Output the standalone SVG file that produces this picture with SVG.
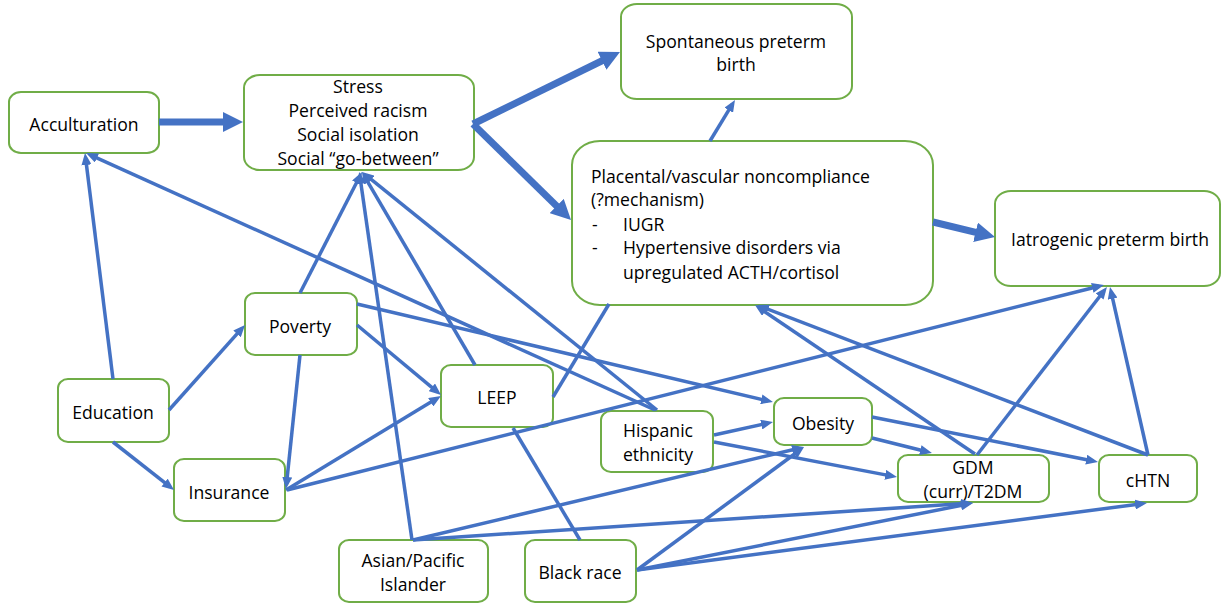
<svg xmlns="http://www.w3.org/2000/svg" width="1221" height="603" viewBox="0 0 1221 603">
<style>
.box{fill:#fff;stroke:#70AD47;stroke-width:2}
.t{font-family:"Open Sans","Liberation Sans",sans-serif;font-size:17.6px;fill:#000;text-anchor:middle}
.tl{font-family:"Open Sans","Liberation Sans",sans-serif;font-size:17.6px;fill:#000}
.c{stroke:#4472C4;stroke-width:3.5;fill:none;marker-end:url(#ah)}
.n{stroke:#4472C4;stroke-width:3.5;fill:none}
.k{stroke:#4472C4;stroke-width:7;fill:none;marker-end:url(#ahk)}
</style>
<defs>
<marker id="ah" markerUnits="userSpaceOnUse" markerWidth="12" markerHeight="10" refX="7" refY="5" orient="auto"><path d="M0,0 L12,5 L0,10 z" fill="#4472C4"/></marker>
<marker id="ahk" markerUnits="userSpaceOnUse" markerWidth="20" markerHeight="20" refX="12" refY="10" orient="auto"><path d="M0,0 L20,10 L0,20 z" fill="#4472C4"/></marker>
</defs>
<rect width="1221" height="603" fill="#fff"/>
<g id="acculturation"><rect class="box" x="9" y="92" width="150" height="61" rx="12" ry="10"/><text class="t" x="84" y="131">Acculturation</text></g>
<g id="stress"><rect class="box" x="244" y="75" width="230" height="95" rx="16" ry="13"/><text class="t" x="358" y="93">Stress</text><text class="t" x="358" y="117">Perceived racism</text><text class="t" x="358" y="141">Social isolation</text><text class="t" x="358" y="165">Social “go-between”</text></g>
<g id="spontaneous"><rect class="box" x="621" y="4" width="231" height="95" rx="16" ry="13"/><text class="t" x="736" y="48">Spontaneous preterm</text><text class="t" x="736" y="71">birth</text></g>
<g id="placental"><rect class="box" x="572" y="141" width="361" height="164" rx="28" ry="24"/><text class="tl" x="591" y="183">Placental/vascular noncompliance</text><text class="tl" x="591" y="206">(?mechanism)</text><text class="tl" x="592" y="231">-</text><text class="tl" x="623" y="231">IUGR</text><text class="tl" x="592" y="254">-</text><text class="tl" x="623" y="254">Hypertensive disorders via</text><text class="tl" x="623" y="279">upregulated ACTH/cortisol</text></g>
<g id="iatrogenic"><rect class="box" x="995" y="191" width="225" height="95" rx="16" ry="13"/><text class="t" x="1110" y="246">Iatrogenic preterm birth</text></g>
<g id="poverty"><rect class="box" x="245" y="293" width="112" height="62" rx="10" ry="9"/><text class="t" x="300" y="333">Poverty</text></g>
<g id="education"><rect class="box" x="58" y="379" width="111" height="63" rx="10" ry="9"/><text class="t" x="113" y="419">Education</text></g>
<g id="insurance"><rect class="box" x="174" y="459" width="111" height="62" rx="10" ry="9"/><text class="t" x="229" y="499">Insurance</text></g>
<g id="leep"><rect class="box" x="441" y="365" width="112" height="62" rx="10" ry="9"/><text class="t" x="497" y="404">LEEP</text></g>
<g id="asian"><rect class="box" x="339" y="540" width="149" height="62" rx="10" ry="9"/><text class="t" x="413" y="567">Asian/Pacific</text><text class="t" x="413" y="591">Islander</text></g>
<g id="black"><rect class="box" x="525" y="540" width="111" height="62" rx="10" ry="9"/><text class="t" x="580" y="579">Black race</text></g>
<g id="hispanic"><rect class="box" x="601" y="411" width="112" height="61" rx="10" ry="9"/><text class="t" x="658" y="437">Hispanic</text><text class="t" x="658" y="461">ethnicity</text></g>
<g id="obesity"><rect class="box" x="774" y="398" width="98" height="47" rx="10" ry="9"/><text class="t" x="823" y="430">Obesity</text></g>
<g id="gdm"><rect class="box" x="898" y="455" width="151" height="47" rx="10" ry="9"/><text class="t" x="973" y="474">GDM</text><text class="t" x="973" y="498">(curr)/T2DM</text></g>
<g id="chtn"><rect class="box" x="1099" y="455" width="98" height="47" rx="10" ry="9"/><text class="t" x="1148" y="487">cHTN</text></g>
<g id="connectors">
<line class="k" x1="159" y1="122" x2="235" y2="122"/>
<line class="k" x1="473" y1="124" x2="612.8" y2="55.5"/>
<line class="k" x1="473" y1="124" x2="565.3" y2="214.4"/>
<line class="k" x1="933" y1="222" x2="987.2" y2="235.1"/>
<line class="c" x1="710" y1="141" x2="732.4" y2="104.2"/>
<line class="c" x1="113" y1="379" x2="85.6" y2="158"/>
<line class="c" x1="169" y1="410" x2="241.7" y2="328.7"/>
<line class="c" x1="113" y1="442" x2="170.1" y2="486.9"/>
<line class="c" x1="300" y1="293" x2="359.7" y2="176.5"/>
<line class="c" x1="300" y1="355" x2="286.5" y2="484"/>
<line class="c" x1="357" y1="325" x2="437.2" y2="391.8"/>
<line class="c" x1="357" y1="304" x2="768.1" y2="400.9"/>
<line class="c" x1="286" y1="490" x2="436.7" y2="398.6"/>
<line class="c" x1="287" y1="490" x2="1099.1" y2="286.2"/>
<line class="c" x1="475" y1="365" x2="364.5" y2="176.3"/>
<line class="n" x1="553" y1="397" x2="609" y2="304"/>
<line class="n" x1="513" y1="428" x2="580" y2="540"/>
<line class="c" x1="412" y1="540" x2="360" y2="176.9"/>
<line class="c" x1="657" y1="410" x2="365.9" y2="175.1"/>
<line class="c" x1="655" y1="410" x2="90.6" y2="155.1"/>
<line class="c" x1="714" y1="435" x2="768.1" y2="423.1"/>
<line class="c" x1="714" y1="442" x2="892.1" y2="476.1"/>
<line class="c" x1="872" y1="438" x2="927.1" y2="451.8"/>
<line class="c" x1="872" y1="417" x2="1093.1" y2="461"/>
<line class="c" x1="975" y1="454" x2="759.1" y2="307.8"/>
<line class="c" x1="1148" y1="455" x2="761.7" y2="306.8"/>
<line class="c" x1="977" y1="455" x2="1103.9" y2="291"/>
<line class="c" x1="1148" y1="455" x2="1111.1" y2="291.9"/>
<line class="c" x1="413" y1="540" x2="799.1" y2="448.2"/>
<line class="c" x1="413" y1="540" x2="968" y2="503.3"/>
<line class="c" x1="637" y1="570" x2="800" y2="450"/>
<line class="c" x1="637" y1="570" x2="968.1" y2="504"/>
<line class="c" x1="637" y1="570" x2="1142" y2="503.7"/>
</g>
</svg>
